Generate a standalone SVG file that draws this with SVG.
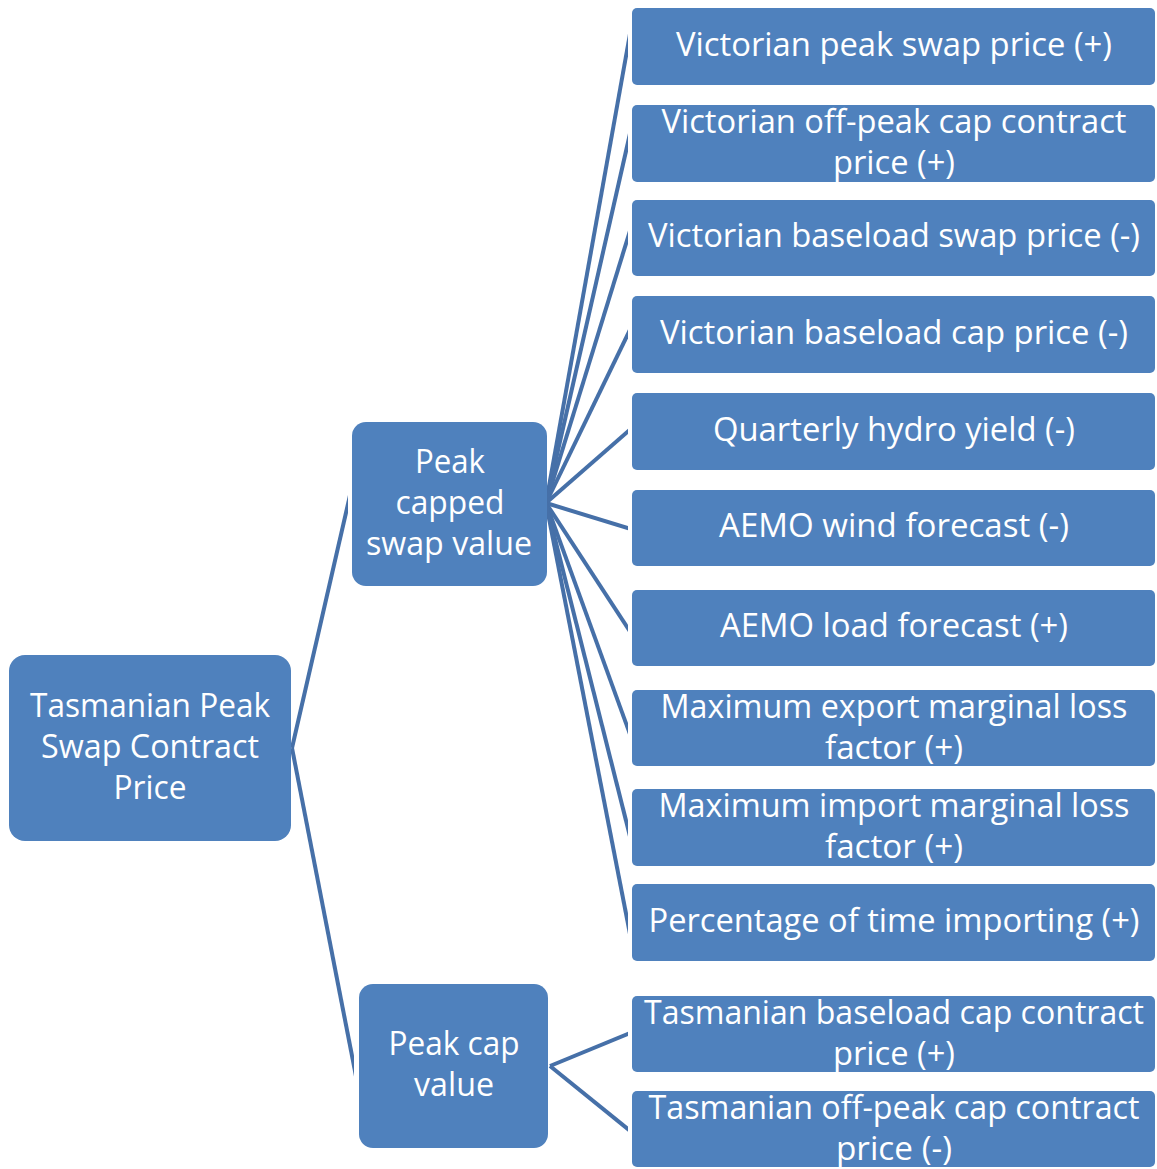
<svg xmlns="http://www.w3.org/2000/svg" width="1157" height="1169" viewBox="0 0 1157 1169">
<style>
.n{fill:#4f81bd;}
.t{fill:#ffffff;font-family:"Open Sans","Noto Sans",sans-serif;font-size:32px;text-anchor:middle;}
.c{stroke:#4670a8;stroke-width:4;fill:none;stroke-linecap:butt;}
</style>
<defs>
<clipPath id="cm"><rect x="540" y="0" width="88" height="1169"/></clipPath>
<clipPath id="ct"><rect x="280" y="400" width="68" height="360"/></clipPath>
<clipPath id="cb"><rect x="280" y="740" width="74" height="400"/></clipPath>
</defs>
<rect width="1157" height="1169" fill="#ffffff"/>
<g id="connectors">
<line class="c" clip-path="url(#ct)" x1="292" y1="748" x2="360" y2="451.7"/>
<line class="c" clip-path="url(#cb)" x1="292" y1="748" x2="366" y2="1127.6"/>
<g clip-path="url(#cm)">
<line class="c" x1="546" y1="503" x2="640" y2="-22"/>
<line class="c" x1="546" y1="503" x2="640" y2="89.6"/>
<line class="c" x1="546" y1="503" x2="640" y2="198.3"/>
<line class="c" x1="546" y1="503" x2="640" y2="309.2"/>
<line class="c" x1="546" y1="503" x2="640" y2="420.8"/>
<line class="c" x1="546" y1="503" x2="640" y2="531.8"/>
<line class="c" x1="546" y1="503" x2="640" y2="646.8"/>
<line class="c" x1="546" y1="503" x2="640" y2="761.8"/>
<line class="c" x1="546" y1="503" x2="640" y2="876.2"/>
<line class="c" x1="546" y1="503" x2="640" y2="985.4"/>
<line class="c" x1="550" y1="1066" x2="640" y2="1029"/>
<line class="c" x1="550" y1="1066" x2="640" y2="1138.8"/>
</g>
</g>
<g id="root">
<rect class="n" x="9" y="655" width="282" height="186" rx="16"/>
<text class="t" x="150" y="717" textLength="240" lengthAdjust="spacingAndGlyphs">Tasmanian Peak</text>
<text class="t" x="150" y="758" textLength="218" lengthAdjust="spacingAndGlyphs">Swap Contract</text>
<text class="t" x="150" y="799" textLength="73" lengthAdjust="spacingAndGlyphs">Price</text>
</g>
<g id="peak-capped">
<rect class="n" x="352" y="422" width="195" height="164" rx="14"/>
<text class="t" x="450" y="473" textLength="70" lengthAdjust="spacingAndGlyphs">Peak</text>
<text class="t" x="450" y="514" textLength="109" lengthAdjust="spacingAndGlyphs">capped</text>
<text class="t" x="449" y="555" textLength="166" lengthAdjust="spacingAndGlyphs">swap value</text>
</g>
<g id="peak-cap">
<rect class="n" x="359" y="984" width="189" height="164" rx="14"/>
<text class="t" x="454" y="1055" textLength="131" lengthAdjust="spacingAndGlyphs">Peak cap</text>
<text class="t" x="454" y="1096" textLength="80" lengthAdjust="spacingAndGlyphs">value</text>
</g>
<g id="r1">
<rect class="n" x="632" y="8" width="523" height="77" rx="5"/>
<text class="t" x="894" y="56" textLength="436" lengthAdjust="spacingAndGlyphs">Victorian peak swap price (+)</text>
</g>
<g id="r2">
<rect class="n" x="632" y="105" width="523" height="77" rx="5"/>
<text class="t" x="894" y="133" textLength="465" lengthAdjust="spacingAndGlyphs">Victorian off-peak cap contract</text>
<text class="t" x="894" y="174" textLength="122" lengthAdjust="spacingAndGlyphs">price (+)</text>
</g>
<g id="r3">
<rect class="n" x="632" y="200" width="523" height="76" rx="5"/>
<text class="t" x="894" y="247" textLength="492" lengthAdjust="spacingAndGlyphs">Victorian baseload swap price (-)</text>
</g>
<g id="r4">
<rect class="n" x="632" y="296" width="523" height="77" rx="5"/>
<text class="t" x="894" y="344" textLength="468" lengthAdjust="spacingAndGlyphs">Victorian baseload cap price (-)</text>
</g>
<g id="r5">
<rect class="n" x="632" y="393" width="523" height="77" rx="5"/>
<text class="t" x="894" y="441" textLength="362" lengthAdjust="spacingAndGlyphs">Quarterly hydro yield (-)</text>
</g>
<g id="r6">
<rect class="n" x="632" y="490" width="523" height="76" rx="5"/>
<text class="t" x="894" y="537" textLength="350" lengthAdjust="spacingAndGlyphs">AEMO wind forecast (-)</text>
</g>
<g id="r7">
<rect class="n" x="632" y="590" width="523" height="76" rx="5"/>
<text class="t" x="894" y="637" textLength="348" lengthAdjust="spacingAndGlyphs">AEMO load forecast (+)</text>
</g>
<g id="r8">
<rect class="n" x="632" y="690" width="523" height="76" rx="5"/>
<text class="t" x="894" y="718" textLength="467" lengthAdjust="spacingAndGlyphs">Maximum export marginal loss</text>
<text class="t" x="894" y="759" textLength="138" lengthAdjust="spacingAndGlyphs">factor (+)</text>
</g>
<g id="r9">
<rect class="n" x="632" y="789" width="523" height="77" rx="5"/>
<text class="t" x="894" y="817" textLength="471" lengthAdjust="spacingAndGlyphs">Maximum import marginal loss</text>
<text class="t" x="894" y="858" textLength="138" lengthAdjust="spacingAndGlyphs">factor (+)</text>
</g>
<g id="r10">
<rect class="n" x="632" y="884" width="523" height="77" rx="5"/>
<text class="t" x="894" y="932" textLength="491" lengthAdjust="spacingAndGlyphs">Percentage of time importing (+)</text>
</g>
<g id="r11">
<rect class="n" x="632" y="996" width="523" height="76" rx="5"/>
<text class="t" x="894" y="1024" textLength="500" lengthAdjust="spacingAndGlyphs">Tasmanian baseload cap contract</text>
<text class="t" x="894" y="1065" textLength="122" lengthAdjust="spacingAndGlyphs">price (+)</text>
</g>
<g id="r12">
<rect class="n" x="632" y="1091" width="523" height="76" rx="5"/>
<text class="t" x="894" y="1119" textLength="491" lengthAdjust="spacingAndGlyphs">Tasmanian off-peak cap contract</text>
<text class="t" x="894" y="1160" textLength="116" lengthAdjust="spacingAndGlyphs">price (-)</text>
</g>
</svg>
